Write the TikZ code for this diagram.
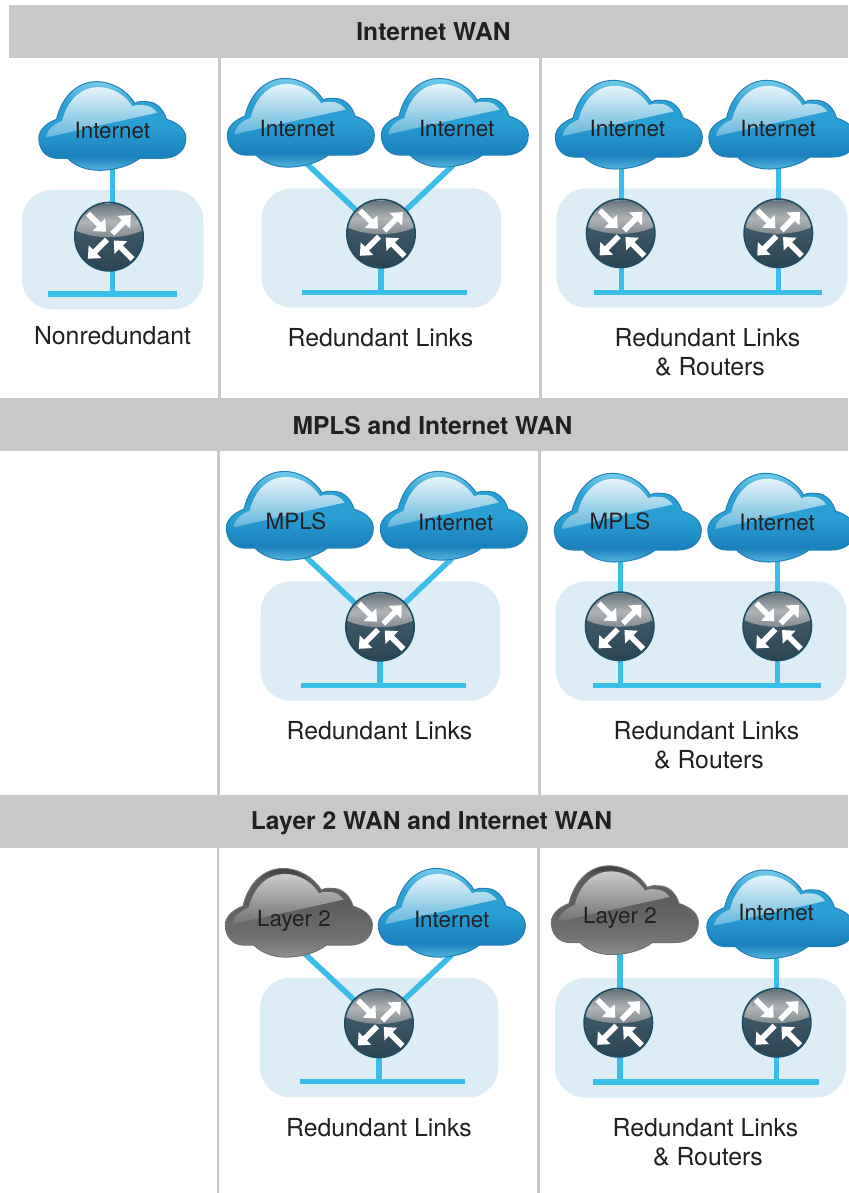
\documentclass[tikz,border=0pt]{standalone}
\usepackage{fontspec}
\setmainfont{TeX Gyre Heros}
\pgfdeclarelayer{panels}
\pgfdeclarelayer{links}
\pgfsetlayers{panels,links,main}
\definecolor{inkc}{HTML}{231F20}
\definecolor{barc}{HTML}{C8C8C8}
\definecolor{panelc}{HTML}{DCEDF5}
\definecolor{linkc}{HTML}{3BBDEA}
% blue cloud colours
\definecolor{bA}{HTML}{72CBEA}\definecolor{bB}{HTML}{2A9FD4}\definecolor{bC}{HTML}{1A80BC}\definecolor{bD}{HTML}{55B5DE}
\definecolor{bE}{HTML}{ECF8FC}\definecolor{bF}{HTML}{5FB3DA}\definecolor{bL}{HTML}{2080B8}
% grey cloud colours
\definecolor{gA}{HTML}{3E3E3E}\definecolor{gB}{HTML}{5E5E5E}\definecolor{gC}{HTML}{707070}\definecolor{gD}{HTML}{8E8E8E}
\definecolor{gE}{HTML}{D0D0D0}\definecolor{gF}{HTML}{6E6E6E}\definecolor{gL}{HTML}{707070}
% router colours
\definecolor{rA}{HTML}{66747C}\definecolor{rB}{HTML}{B0B4B6}\definecolor{rC}{HTML}{7A848A}
\definecolor{rD}{HTML}{3D5868}\definecolor{rE}{HTML}{2A4452}\definecolor{rL}{HTML}{1F4D63}
\pgfdeclareverticalshading{cbluebody}{100bp}{color(0bp)=(bD);color(25bp)=(bD);color(33bp)=(bC);color(50bp)=(bB);color(62bp)=(bB);color(75bp)=(bA);color(100bp)=(bA)}
\pgfdeclareverticalshading{cbluegloss}{100bp}{color(0bp)=(bF);color(25bp)=(bF);color(75bp)=(bE);color(100bp)=(bE)}
\pgfdeclareverticalshading{cgraybody}{100bp}{color(0bp)=(gD);color(25bp)=(gD);color(36bp)=(gC);color(55bp)=(gB);color(68bp)=(gB);color(75bp)=(gA);color(100bp)=(gA)}
\pgfdeclareverticalshading{cgraygloss}{100bp}{color(0bp)=(gF);color(25bp)=(gF);color(75bp)=(gE);color(100bp)=(gE)}
\pgfdeclareverticalshading{routergloss}{100bp}{color(0bp)=(rC);color(25bp)=(rC);color(50bp)=(rB);color(75bp)=(rA);color(100bp)=(rA)}
\pgfdeclareverticalshading{routerbody}{100bp}{color(0bp)=(rE);color(25bp)=(rE);color(75bp)=(rD);color(100bp)=(rD)}
\def\cloudpath{(-221,37) .. controls (-221,10) and (-195,-10) .. (-168,-20)
  .. controls (-150,-95) and (-100,-133) .. (-48,-133)
  .. controls (0,-133) and (45,-105) .. (67,-68)
  .. controls (80,-76) and (92,-73) .. (102,-73)
  .. controls (135,-73) and (155,-45) .. (162,-20)
  .. controls (195,-10) and (220,10) .. (220,37)
  .. controls (220,75) and (190,97) .. (150,97)
  -- (82,97) .. controls (50,122) and (0,133) .. (-40,133)
  .. controls (-80,133) and (-115,118) .. (-135,97)
  -- (-165,97) .. controls (-200,97) and (-221,70) .. (-221,37) -- cycle}
% name, cx, cy, label x, label y, link x, link y, text, scheme
\newcommand\cloudg[9]{%
  \begin{scope}[shift={(#2,#3)},x=0.3333pt,y=-0.3333pt]
    \shadedraw[shading=#9body,draw=\csname #9line\endcsname,line width=1pt] \cloudpath;
    \begin{scope}
      \clip[shift={(0,30)},scale=.9,shift={(0,-30)}] \cloudpath;
      \shade[shading=#9gloss] (-230,41) -- (230,-61) -- (230,-125) -- (-230,-125) -- cycle;
    \end{scope}
  \end{scope}
  \node[cloudtext] (#1) at (#4,#5) {#8};
  \coordinate (#1a) at (#6,#7);
}
\def\cblueline{bL}\def\cgrayline{gL}
\newcommand\rarrow[4]{%
  \begin{scope}[shift={(#1,#2)},rotate=#3]
    \fill[white] (0,-2.8) -- (#4-10,-2.8) -- (#4-10,-9) -- (#4,0) -- (#4-10,9) -- (#4-10,2.8) -- (0,2.8) -- cycle;
  \end{scope}}
\newcommand\router[3]{%
  \node[routernode] (#1) at (#2,#3) {};
  \begin{scope}[shift={(#2,#3)}]
    \begin{scope}
      \clip (0,0) circle (34.2);
      \shade[shading=routerbody] (-35,-6) rectangle (35,35);
      \shade[shading=routergloss] (-35,-7) .. controls (-15,3) and (15,3) .. (35,-7) -- (35,-33) -- (-35,-33) -- cycle;
    \end{scope}
    \draw[rL,line width=1.6pt] (0,0) circle (34.2);
    \rarrow{-21}{-23}{-45}{25.5}
    \rarrow{3.3}{-3}{45}{26.2}
    \rarrow{-2}{3}{-135}{27}
    \rarrow{23.5}{22.5}{135}{26.5}
  \end{scope}}
\newcommand\panelbox[4]{\begin{pgfonlayer}{panels}\node[panelshape,minimum width=#4] (#1) at (#2,#3) {};\end{pgfonlayer}}
\newcommand\busbar[4]{\node[busshape,minimum width=#4] (#1) at (#2,#3) {};}
\tikzset{
  cloudtext/.style={inner sep=0pt,text=inkc,font=\fontsize{22.4}{24}\selectfont},
  routernode/.style={circle,inner sep=0pt,minimum size=70pt},
  panelshape/.style={fill=panelc,rounded corners=30pt,inner sep=0pt,minimum height=119.4pt},
  busshape/.style={fill=linkc,inner sep=0pt,minimum height=5.4pt},
  link/.style={linkc,line width=5.5pt},
  titlebar/.style={fill=barc,inner sep=0pt,minimum height=53pt},
  titletext/.style={inner sep=0pt,text=inkc,font=\fontsize{24.6}{26}\selectfont\bfseries},
  caption/.style={inner sep=0pt,text=inkc,font=\fontsize{24.8}{26}\selectfont},
  divider/.style={barc,line width=2.5pt},
}
\begin{document}
\begin{tikzpicture}[x=1pt,y=-1pt]
\useasboundingbox (0,0) rectangle (848,1193);
% title bars
\begin{pgfonlayer}{panels}
\fill[white] (0,0) rectangle (848,1193);
\node[titlebar,minimum width=839.5pt] (t1) at (428.25,31.5) {};
\node[titlebar,minimum width=848pt] (t2) at (424,424.5) {};
\node[titlebar,minimum width=848pt] (t3) at (424,821.5) {};
\draw[divider] (219.7,0 |- t1.south) -- (219.7,0 |- t2.north);
\draw[divider] (540.5,0 |- t1.south) -- (540.5,0 |- t2.north);
\draw[divider] (218.7,0 |- t2.south) -- (218.7,0 |- t3.north);
\draw[divider] (539.7,0 |- t2.south) -- (539.7,0 |- t3.north);
\draw[divider] (218,0 |- t3.south) -- (218,1193);
\draw[divider] (538.7,0 |- t3.south) -- (538.7,1193);
\end{pgfonlayer}
\node[titletext] (h1) at (433.5,32) {Internet WAN};
\node[titletext] (h2) at (432.5,425.5) {MPLS and Internet WAN};
\node[titletext] (h3) at (431.5,823.5) {Layer 2 WAN and Internet WAN};
% panels
\panelbox{p1}{112.65}{249.65}{181.3pt}
\panelbox{p2}{381.35}{248}{239.3pt}
\panelbox{p3}{702}{248}{290.6pt}
\panelbox{p4}{380.35}{641}{239.3pt}
\panelbox{p5}{701}{641}{290.6pt}
\panelbox{p6}{379.15}{1037.5}{238.3pt}
\panelbox{p7}{700.5}{1037.8}{291pt}
% buses
\busbar{b1}{112.5}{294}{129pt}
\busbar{b2}{384.5}{292.3}{165pt}
\busbar{b3}{708}{292.3}{227.4pt}
\busbar{b4}{383.5}{685.3}{165pt}
\busbar{b5}{707}{685.3}{227.4pt}
\busbar{b6}{382.5}{1081.7}{165pt}
\busbar{b7}{706}{1082}{226.6pt}
% clouds
\cloudg{c1}{112.5}{126}{112.3}{130.7}{112.5}{165}{Internet}{cblue}
\cloudg{c2}{301}{122.8}{297.3}{129}{306}{163}{Internet}{cblue}
\cloudg{c3}{455}{122.8}{456.7}{129}{453.3}{165}{Internet}{cblue}
\cloudg{c4}{629}{124.7}{627.3}{129}{621.7}{165}{Internet}{cblue}
\cloudg{c5}{782.5}{124.7}{778}{129}{778.7}{165}{Internet}{cblue}
\cloudg{c6}{300}{515.8}{296}{521.5}{305}{556}{MPLS}{cblue}
\cloudg{c7}{454}{515.8}{455.7}{522}{452.3}{558}{Internet}{cblue}
\cloudg{c8}{628}{517.7}{620}{521.5}{620.7}{558}{MPLS}{cblue}
\cloudg{c9}{781.5}{517.7}{777}{522}{777.7}{558}{Internet}{cblue}
\cloudg{c10}{299}{912.8}{294}{921}{304}{953}{Layer 2}{cgray}
\cloudg{c11}{452}{912.8}{451.7}{919.3}{451.7}{955}{Internet}{cblue}
\cloudg{c12}{625}{910.2}{620}{917.5}{620}{950}{Layer 2}{cgray}
\cloudg{c13}{780.5}{914.3}{776}{912.3}{776.7}{955}{Internet}{cblue}
% routers
\router{r1}{109}{236.7}
\router{r2}{381}{233.7}
\router{r3}{620.7}{233.3}
\router{r4}{778.3}{233.3}
\router{r5}{380}{626.7}
\router{r6}{619.7}{626.3}
\router{r7}{777.3}{626.3}
\router{r8}{379}{1023.3}
\router{r9}{618.3}{1022.7}
\router{r10}{776.7}{1022.7}
% links
\begin{pgfonlayer}{links}
\draw[link] (c1a) -- (c1a |- b1.center);
\draw[link] (c2a) -- (r2.center);
\draw[link] (c3a) -- (r2.center);
\draw[link] (r2.center) -- (r2.center |- b2.center);
\draw[link] (c4a) -- (c4a |- b3.center);
\draw[link] (c5a) -- (c5a |- b3.center);
\draw[link] (c6a) -- (r5.center);
\draw[link] (c7a) -- (r5.center);
\draw[link] (r5.center) -- (r5.center |- b4.center);
\draw[link] (c8a) -- (c8a |- b5.center);
\draw[link] (c9a) -- (c9a |- b5.center);
\draw[link] (c10a) -- (r8.center);
\draw[link] (c11a) -- (r8.center);
\draw[link] (r8.center) -- (r8.center |- b6.center);
\draw[link] (c12a) -- (c12a |- b7.center);
\draw[link] (c13a) -- (c13a |- b7.center);
\end{pgfonlayer}
% captions
\node[caption] (k1) at (112.5,336) {Nonredundant};
\node[caption] (k2) at (380.5,337.5) {Redundant Links};
\node[caption] (k3) at (707.5,337.5) {Redundant Links};
\node[caption] (k3b) at (710,366.5) {\& Routers};
\node[caption] (k4) at (379.5,730.5) {Redundant Links};
\node[caption] (k5) at (706.5,730.5) {Redundant Links};
\node[caption] (k5b) at (709,759.5) {\& Routers};
\node[caption] (k6) at (379,1127.5) {Redundant Links};
\node[caption] (k7) at (705.5,1127.5) {Redundant Links};
\node[caption] (k7b) at (708,1156.5) {\& Routers};
\end{tikzpicture}
\end{document}
